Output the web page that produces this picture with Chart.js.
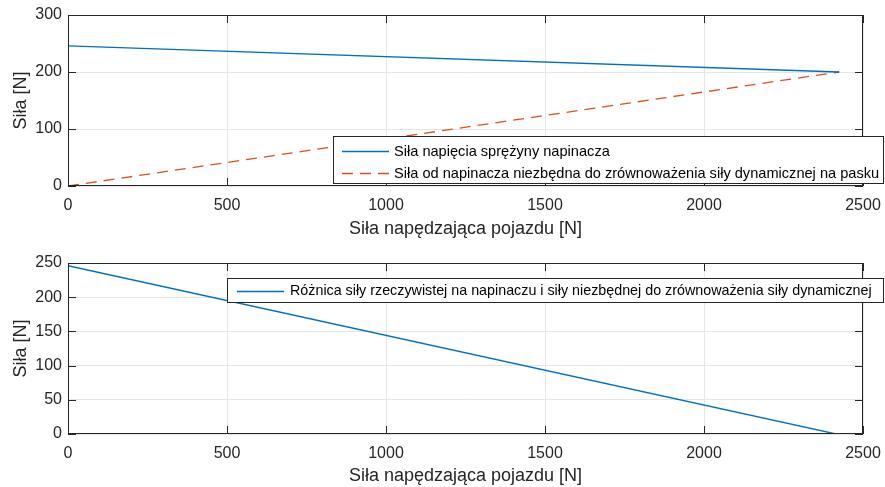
<!DOCTYPE html>
<html>
<head>
<meta charset="utf-8">
<script src="https://cdn.jsdelivr.net/npm/chart.js@4"></script>
<style>
  html, body { margin: 0; padding: 0; background: #fff; }
  #wrap { position: relative; width: 885px; height: 487px; }
  #c1 { position: absolute; left: 0; top: 0; }
  #c2 { position: absolute; left: 0; top: 243px; }
</style>
</head>
<body>
<div id="wrap">
  <canvas id="c1" width="885" height="243"></canvas>
  <canvas id="c2" width="885" height="244"></canvas>
</div>
<script>
// ---- data ----
const xTop = [0, 2425];
const springForce = [246, 200];
const requiredForce = [0, 200];
const xBottom = [0, 2415];
const forceDifference = [246, 0];
const xTicks = [0, 500, 1000, 1500, 2000, 2500];
const yTicksTop = [0, 100, 200, 300];
const yTicksBottom = [0, 50, 100, 150, 200, 250];
const xLabel = 'Siła napędzająca pojazdu [N]';
const yLabel = 'Siła [N]';
const legendTop = ['Siła napięcia sprężyny napinacza', 'Siła od napinacza niezbędna do zrównoważenia siły dynamicznej na pasku'];
const legendBottom = ['Różnica siły rzeczywistej na napinaczu i siły niezbędnej do zrównoważenia siły dynamicznej'];

const FONT = "'Liberation Sans', Arial, Helvetica, sans-serif";
const AX = '#262626';
const GRID = '#e6e6e6';
const BLUE = '#0072BD';
const RED = '#D95319';

function pts(xs, ys) { return xs.map((x, i) => ({ x: x, y: ys[i] })); }

function boxPlugin(legend) {
  return {
    id: 'boxLegend',
    afterDraw(chart) {
      const ctx = chart.ctx, a = chart.chartArea, sx = chart.scales.x, sy = chart.scales.y;
      ctx.save();
      ctx.strokeStyle = AX;
      ctx.lineWidth = 1;
      ctx.strokeRect(Math.round(a.left) + 0.5, Math.round(a.top) + 0.5, Math.round(a.right - a.left) - 1, Math.round(a.bottom - a.top) - 1);
      ctx.beginPath();
      sx.ticks.forEach(t => {
        const p = Math.round(sx.getPixelForValue(t.value)) + 0.5;
        ctx.moveTo(p, a.bottom); ctx.lineTo(p, a.bottom - 8);
        ctx.moveTo(p, a.top); ctx.lineTo(p, a.top + 8);
      });
      sy.ticks.forEach(t => {
        const p = Math.round(sy.getPixelForValue(t.value)) + 0.5;
        ctx.moveTo(a.left, p); ctx.lineTo(a.left + 8, p);
        ctx.moveTo(a.right, p); ctx.lineTo(a.right - 8, p);
      });
      ctx.stroke();
      // legend
      const L = legend;
      ctx.fillStyle = '#ffffff';
      ctx.fillRect(L.x, L.y, L.w, L.h);
      ctx.strokeStyle = AX;
      ctx.lineWidth = 1;
      ctx.strokeRect(L.x + 0.5, L.y + 0.5, L.w - 1, L.h - 1);
      ctx.font = L.fontSize + 'px ' + FONT;
      ctx.textBaseline = 'middle';
      ctx.textAlign = 'left';
      L.items.forEach((it, i) => {
        const yy = Math.round(L.y + L.first + i * L.step) + 0.5;
        ctx.strokeStyle = it.color;
        ctx.lineWidth = 1.3;
        ctx.setLineDash(it.dash || []);
        ctx.beginPath();
        ctx.moveTo(L.x + L.lx0, yy); ctx.lineTo(L.x + L.lx1, yy);
        ctx.stroke();
        ctx.setLineDash([]);
        ctx.fillStyle = '#000';
        ctx.fillText(it.text, L.x + L.tx, yy);
      });
      ctx.restore();
    }
  };
}

function makeOptions(yMin, yMax, yStep, padTop, yWidth, xHeight, titleBottomPad) {
  return {
    responsive: false,
    animation: false,
    devicePixelRatio: 1,
    layout: { padding: { top: padTop, right: 22, left: 0, bottom: 0 } },
    plugins: { legend: { display: false }, tooltip: { enabled: false } },
    elements: { point: { radius: 0 } },
    scales: {
      x: {
        type: 'linear', min: 0, max: 2500,
        afterBuildTicks: s => { s.ticks = xTicks.map(v => ({ value: v })); },
        ticks: { color: AX, font: { family: FONT, size: 16 }, padding: 10, maxRotation: 0, callback: v => String(v) },
        grid: { color: GRID, drawTicks: false, lineWidth: 1 },
        border: { display: false },
        title: { display: true, text: xLabel, color: AX, font: { family: FONT, size: 18 }, padding: { top: 2, bottom: titleBottomPad } },
        afterFit: s => { s.height = xHeight; s.paddingLeft = 0; s.paddingRight = 0; }
      },
      y: {
        type: 'linear', min: yMin, max: yMax,
        ticks: { stepSize: yStep, color: AX, font: { family: FONT, size: 16 }, padding: 6, callback: v => String(v) },
        grid: { color: GRID, drawTicks: false, lineWidth: 1 },
        border: { display: false },
        title: { display: true, text: yLabel, color: AX, font: { family: FONT, size: 18 }, padding: { top: 10, bottom: 4 } },
        afterFit: s => { s.width = yWidth; s.paddingTop = 0; s.paddingBottom = 0; }
      }
    }
  };
}

new Chart(document.getElementById('c1'), {
  type: 'line',
  data: {
    datasets: [
      { data: pts(xTop, springForce), borderColor: BLUE, borderWidth: 1.3, fill: false },
      { data: pts(xTop, requiredForce), borderColor: RED, borderWidth: 1.3, borderDash: [11, 7], fill: false }
    ]
  },
  options: makeOptions(0, 300, 100, 15, 68, 57, 3),
  plugins: [boxPlugin({
    x: 333, y: 136, w: 551, h: 48, fontSize: 14.6, first: 15, step: 21.5,
    lx0: 9, lx1: 56, tx: 61,
    items: [
      { text: legendTop[0], color: BLUE },
      { text: legendTop[1], color: RED, dash: [11, 7] }
    ]
  })]
});

new Chart(document.getElementById('c2'), {
  type: 'line',
  data: {
    datasets: [
      { data: pts(xBottom, forceDifference), borderColor: BLUE, borderWidth: 1.3, fill: false }
    ]
  },
  options: makeOptions(0, 250, 50, 20, 68, 53, 0),
  plugins: [boxPlugin({
    x: 227, y: 35, w: 657, h: 25, fontSize: 14.3, first: 12.5, step: 0,
    lx0: 10, lx1: 57, tx: 63,
    items: [
      { text: legendBottom[0], color: BLUE }
    ]
  })]
});
</script>
</body>
</html>
